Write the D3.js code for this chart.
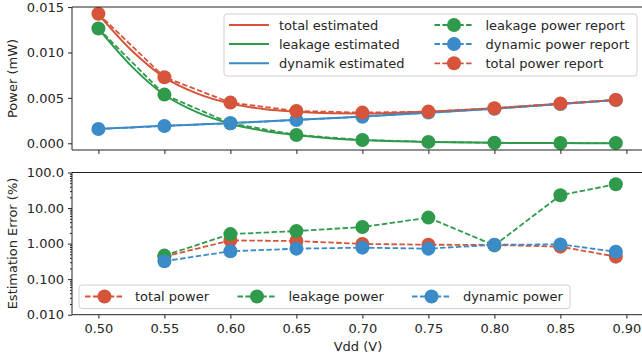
<!DOCTYPE html>
<html>
<head>
<meta charset="utf-8">
<script src="https://cdn.jsdelivr.net/npm/d3@7"></script>
<style>
  body { margin: 0; background: #fff; }
  text { font-family: "DejaVu Sans", sans-serif; font-size: 13px; fill: #262626; }
</style>
</head>
<body>
<div id="chart"></div>
<script>
// measured Vdd points
var vdd = [0.50, 0.55, 0.60, 0.65, 0.70, 0.75, 0.80, 0.85, 0.892];
var leakReport = [0.01264, 0.00536, 0.00220, 0.00092, 0.00036, 0.00015, 0.00006, 0.00003, 0.00002];
var dynReport = [0.00158, 0.00191, 0.00221, 0.00257, 0.00293, 0.00338, 0.00381, 0.00433, 0.00476];
var totalReport = [0.01426, 0.00728, 0.00448, 0.00356, 0.00338, 0.00349, 0.00386, 0.00437, 0.00478];

// estimated curves (finer grid)
var vddEst = [0.50, 0.525, 0.55, 0.575, 0.60, 0.625, 0.65, 0.675, 0.70, 0.75, 0.80, 0.85, 0.892];
var leakEst = [0.01262, 0.0085, 0.00534, 0.0034, 0.00216, 0.00138, 0.00090, 0.00056, 0.00035, 0.00014, 0.00005, 0.00002, 0.00001];
var dynEst = [0.00158, 0.00175, 0.00192, 0.00207, 0.00222, 0.00240, 0.00258, 0.00276, 0.00294, 0.00336, 0.00381, 0.00432, 0.00476];
var totalEst = [0.01420, 0.01025, 0.00726, 0.00547, 0.00438, 0.00378, 0.00348, 0.00332, 0.00329, 0.00350, 0.00386, 0.00434, 0.00477];

// estimation error (%), no value at 0.50
var vddErr = [0.55, 0.60, 0.65, 0.70, 0.75, 0.80, 0.85, 0.892];
var totalErr = [0.43, 1.23, 1.18, 0.98, 0.93, 0.92, 0.82, 0.43];
var leakErr = [0.46, 1.85, 2.25, 2.92, 5.38, 0.89, 22.9, 46.9];
var dynErr = [0.32, 0.61, 0.72, 0.77, 0.72, 0.93, 0.95, 0.59];

var xTicks = [0.50, 0.55, 0.60, 0.65, 0.70, 0.75, 0.80, 0.85, 0.90];
var topTicks = [0.000, 0.005, 0.010, 0.015];
var botTicks = [0.01, 0.1, 1, 10, 100];
var botTickLabels = ["0.010", "0.100", "1.000", "10.00", "100.0"];

var RED = "#d6553a", GREEN = "#2f9a4b", BLUE = "#3a8bc8";

var W = 642, H = 360;
var svg = d3.select("#chart").append("svg").attr("width", W).attr("height", H);

var x = d3.scaleLinear().domain([0.48, 0.91]).range([72, 639.6]);
var yTop = d3.scaleLinear().domain([-0.00074, 0.01501]).range([150, 7]);
var yBot = d3.scaleLog().domain([0.01, 100]).range([314.7, 172.5]);

function zip(xs, ys) { return xs.map(function(d, i) { return [d, ys[i]]; }); }

function spines(g, y0, y1) {
  g.append("line").attr("x1", 72).attr("x2", 642).attr("y1", y0).attr("y2", y0)
    .attr("stroke", "#222").attr("stroke-width", 1);
  g.append("line").attr("x1", 72).attr("x2", 642).attr("y1", y1).attr("y2", y1)
    .attr("stroke", "#222").attr("stroke-width", 1);
  g.append("line").attr("x1", 72).attr("x2", 72).attr("y1", y0).attr("y2", y1)
    .attr("stroke", "#222").attr("stroke-width", 1);
}

function cleanAxis(g) {
  g.select(".domain").remove();
  g.selectAll("line").attr("stroke", "#222");
  g.selectAll("text").attr("font-family", null).attr("font-size", null).attr("fill", null);
}

// ---- top panel ----
var topG = svg.append("g");

topG.append("g").attr("transform", "translate(0,150)")
  .call(d3.axisBottom(x).tickValues(xTicks).tickSize(4).tickFormat(""))
  .call(cleanAxis);

topG.append("g").attr("transform", "translate(72,0)")
  .call(d3.axisLeft(yTop).tickValues(topTicks).tickSize(4).tickPadding(4).tickFormat(d3.format(".3f")))
  .call(cleanAxis);

var lineTop = d3.line().x(function(d) { return x(d[0]); }).y(function(d) { return yTop(d[1]); })
  .curve(d3.curveMonotoneX);
var lineTopStraight = d3.line().x(function(d) { return x(d[0]); }).y(function(d) { return yTop(d[1]); });

[[totalEst, RED], [leakEst, GREEN], [dynEst, BLUE]].forEach(function(s) {
  topG.append("path").datum(zip(vddEst, s[0])).attr("d", lineTop)
    .attr("fill", "none").attr("stroke", s[1]).attr("stroke-width", 2);
});

function reportSeries(g, xs, ys, color, yScale, lineGen) {
  g.append("path").datum(zip(xs, ys)).attr("d", lineGen)
    .attr("fill", "none").attr("stroke", color).attr("stroke-width", 1.8)
    .attr("stroke-dasharray", "5.5,2.4");
  g.selectAll(null).data(zip(xs, ys)).enter().append("circle")
    .attr("cx", function(d) { return x(d[0]); })
    .attr("cy", function(d) { return yScale(d[1]); })
    .attr("r", 7).attr("fill", color);
}
reportSeries(topG, vdd, leakReport, GREEN, yTop, lineTopStraight);
reportSeries(topG, vdd, dynReport, BLUE, yTop, lineTopStraight);
reportSeries(topG, vdd, totalReport, RED, yTop, lineTopStraight);

spines(topG, 7, 150);

topG.append("text").attr("transform", "translate(17,78.5) rotate(-90)")
  .attr("text-anchor", "middle").text("Power (mW)");

// top legend
var lg = topG.append("g");
lg.append("rect").attr("x", 224).attr("y", 14).attr("width", 413).attr("height", 62)
  .attr("rx", 3).attr("fill", "#fff").attr("fill-opacity", 0.8)
  .attr("stroke", "#d0d0d0").attr("stroke-width", 1);
var estItems = [["total estimated", RED], ["leakage estimated", GREEN], ["dynamik estimated", BLUE]];
var repItems = [["leakage power report", GREEN], ["dynamic power report", BLUE], ["total power report", RED]];
var rowY = [25, 44, 63.3];
estItems.forEach(function(it, i) {
  lg.append("line").attr("x1", 229).attr("x2", 269).attr("y1", rowY[i]).attr("y2", rowY[i])
    .attr("stroke", it[1]).attr("stroke-width", 2);
  lg.append("text").attr("x", 279).attr("y", rowY[i] + 4.7).text(it[0]);
});
repItems.forEach(function(it, i) {
  lg.append("line").attr("x1", 434.5).attr("x2", 473.5).attr("y1", rowY[i]).attr("y2", rowY[i])
    .attr("stroke", it[1]).attr("stroke-width", 1.8).attr("stroke-dasharray", "5.5,2.4");
  lg.append("circle").attr("cx", 454).attr("cy", rowY[i]).attr("r", 7).attr("fill", it[1]);
  lg.append("text").attr("x", 485.5).attr("y", rowY[i] + 4.7).text(it[0]);
});

// ---- bottom panel ----
var botG = svg.append("g");

botG.append("g").attr("transform", "translate(0,314.7)")
  .call(d3.axisBottom(x).tickValues(xTicks).tickSize(4).tickPadding(5).tickFormat(d3.format(".2f")))
  .call(cleanAxis);

var minorTicks = [];
[0.01, 0.1, 1, 10].forEach(function(dec) {
  for (var k = 2; k <= 9; k++) minorTicks.push(dec * k);
});
botG.append("g").attr("transform", "translate(72,0)")
  .call(d3.axisLeft(yBot).tickValues(minorTicks).tickSize(2).tickFormat(""))
  .call(cleanAxis);

botG.append("g").attr("transform", "translate(72,0)")
  .call(d3.axisLeft(yBot).tickValues(botTicks).tickSize(4).tickPadding(4)
    .tickFormat(function(d, i) { return botTickLabels[i]; }))
  .call(cleanAxis);

var lineBot = d3.line().x(function(d) { return x(d[0]); }).y(function(d) { return yBot(d[1]); });
reportSeries(botG, vddErr, totalErr, RED, yBot, lineBot);
reportSeries(botG, vddErr, leakErr, GREEN, yBot, lineBot);
reportSeries(botG, vddErr, dynErr, BLUE, yBot, lineBot);

spines(botG, 172.5, 314.7);

botG.append("text").attr("transform", "translate(17,243.5) rotate(-90)")
  .attr("text-anchor", "middle").text("Estimation Error (%)");
botG.append("text").attr("x", 358).attr("y", 351).attr("text-anchor", "middle").text("Vdd (V)");

// bottom legend
var lb = botG.append("g");
lb.append("rect").attr("x", 79).attr("y", 285).attr("width", 491).attr("height", 23.5)
  .attr("rx", 3).attr("fill", "#fff").attr("fill-opacity", 0.8)
  .attr("stroke", "#d0d0d0").attr("stroke-width", 1);
var errItems = [["total power", RED, 85, 135], ["leakage power", GREEN, 237.5, 288.5], ["dynamic power", BLUE, 412, 463]];
errItems.forEach(function(it) {
  lb.append("line").attr("x1", it[2]).attr("x2", it[2] + 39.5).attr("y1", 296.5).attr("y2", 296.5)
    .attr("stroke", it[1]).attr("stroke-width", 1.8).attr("stroke-dasharray", "5.5,2.4");
  lb.append("circle").attr("cx", it[2] + 19.5).attr("cy", 296.5).attr("r", 7).attr("fill", it[1]);
  lb.append("text").attr("x", it[3]).attr("y", 301.2).text(it[0]);
});
</script>
</body>
</html>
